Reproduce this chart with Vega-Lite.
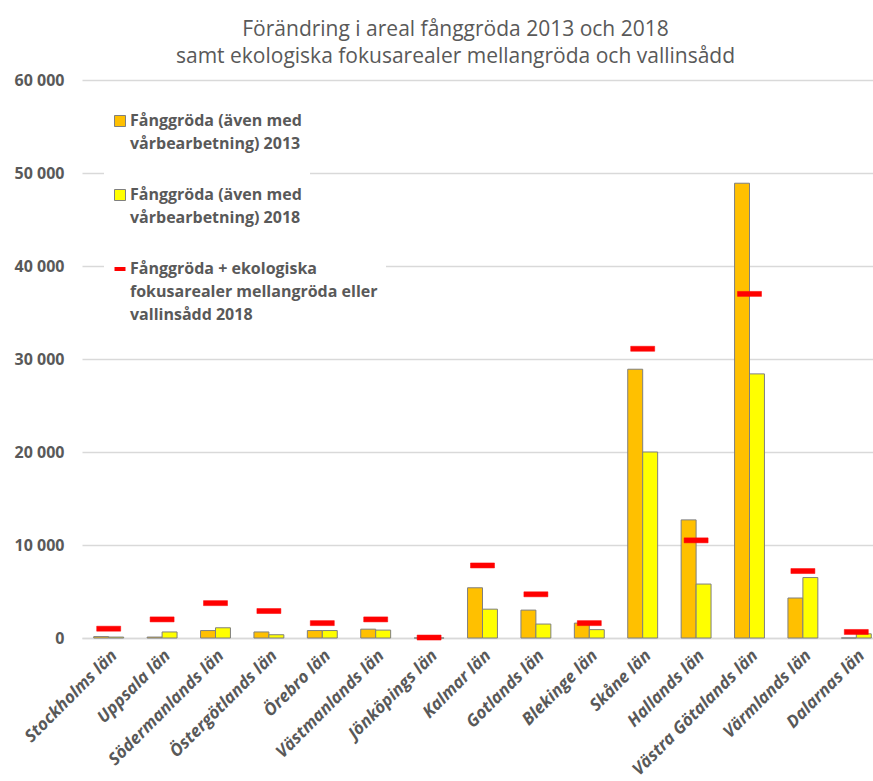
{
  "$schema": "https://vega.github.io/schema/vega-lite/v6.json",
  "width": 791,
  "height": 558,
  "autosize": {"type": "none"},
  "padding": {"left": 82, "top": 80, "right": 0, "bottom": 143},
  "background": "white",
  "title": {
    "text": ["Förändring i areal fånggröda 2013 och 2018", "samt ekologiska fokusarealer mellangröda och vallinsådd"],
    "font": "Open Sans",
    "fontSize": 21,
    "fontWeight": "normal",
    "color": "#595959",
    "lineHeight": 27,
    "anchor": "middle",
    "dx": -22,
    "offset": 5
  },
  "data": {
    "values": [
      {"lan": "Stockholms län", "serie": "Fånggröda (även med vårbearbetning) 2013", "value": 150},
      {"lan": "Stockholms län", "serie": "Fånggröda (även med vårbearbetning) 2018", "value": 100},
      {"lan": "Stockholms län", "serie": "Fånggröda + ekologiska fokusarealer mellangröda eller vallinsådd 2018", "value": 1000},
      {"lan": "Uppsala län", "serie": "Fånggröda (även med vårbearbetning) 2013", "value": 100},
      {"lan": "Uppsala län", "serie": "Fånggröda (även med vårbearbetning) 2018", "value": 650},
      {"lan": "Uppsala län", "serie": "Fånggröda + ekologiska fokusarealer mellangröda eller vallinsådd 2018", "value": 2000},
      {"lan": "Södermanlands län", "serie": "Fånggröda (även med vårbearbetning) 2013", "value": 800},
      {"lan": "Södermanlands län", "serie": "Fånggröda (även med vårbearbetning) 2018", "value": 1100},
      {"lan": "Södermanlands län", "serie": "Fånggröda + ekologiska fokusarealer mellangröda eller vallinsådd 2018", "value": 3750},
      {"lan": "Östergötlands län", "serie": "Fånggröda (även med vårbearbetning) 2013", "value": 650},
      {"lan": "Östergötlands län", "serie": "Fånggröda (även med vårbearbetning) 2018", "value": 350},
      {"lan": "Östergötlands län", "serie": "Fånggröda + ekologiska fokusarealer mellangröda eller vallinsådd 2018", "value": 2900},
      {"lan": "Örebro län", "serie": "Fånggröda (även med vårbearbetning) 2013", "value": 800},
      {"lan": "Örebro län", "serie": "Fånggröda (även med vårbearbetning) 2018", "value": 800},
      {"lan": "Örebro län", "serie": "Fånggröda + ekologiska fokusarealer mellangröda eller vallinsådd 2018", "value": 1600},
      {"lan": "Västmanlands län", "serie": "Fånggröda (även med vårbearbetning) 2013", "value": 950},
      {"lan": "Västmanlands län", "serie": "Fånggröda (även med vårbearbetning) 2018", "value": 850},
      {"lan": "Västmanlands län", "serie": "Fånggröda + ekologiska fokusarealer mellangröda eller vallinsådd 2018", "value": 2000},
      {"lan": "Jönköpings län", "serie": "Fånggröda (även med vårbearbetning) 2013", "value": 0},
      {"lan": "Jönköpings län", "serie": "Fånggröda (även med vårbearbetning) 2018", "value": 0},
      {"lan": "Jönköpings län", "serie": "Fånggröda + ekologiska fokusarealer mellangröda eller vallinsådd 2018", "value": 50},
      {"lan": "Kalmar län", "serie": "Fånggröda (även med vårbearbetning) 2013", "value": 5400},
      {"lan": "Kalmar län", "serie": "Fånggröda (även med vårbearbetning) 2018", "value": 3100},
      {"lan": "Kalmar län", "serie": "Fånggröda + ekologiska fokusarealer mellangröda eller vallinsådd 2018", "value": 7800},
      {"lan": "Gotlands län", "serie": "Fånggröda (även med vårbearbetning) 2013", "value": 3000},
      {"lan": "Gotlands län", "serie": "Fånggröda (även med vårbearbetning) 2018", "value": 1500},
      {"lan": "Gotlands län", "serie": "Fånggröda + ekologiska fokusarealer mellangröda eller vallinsådd 2018", "value": 4700},
      {"lan": "Blekinge län", "serie": "Fånggröda (även med vårbearbetning) 2013", "value": 1600},
      {"lan": "Blekinge län", "serie": "Fånggröda (även med vårbearbetning) 2018", "value": 900},
      {"lan": "Blekinge län", "serie": "Fånggröda + ekologiska fokusarealer mellangröda eller vallinsådd 2018", "value": 1600},
      {"lan": "Skåne län", "serie": "Fånggröda (även med vårbearbetning) 2013", "value": 28900},
      {"lan": "Skåne län", "serie": "Fånggröda (även med vårbearbetning) 2018", "value": 20000},
      {"lan": "Skåne län", "serie": "Fånggröda + ekologiska fokusarealer mellangröda eller vallinsådd 2018", "value": 31100},
      {"lan": "Hallands län", "serie": "Fånggröda (även med vårbearbetning) 2013", "value": 12700},
      {"lan": "Hallands län", "serie": "Fånggröda (även med vårbearbetning) 2018", "value": 5800},
      {"lan": "Hallands län", "serie": "Fånggröda + ekologiska fokusarealer mellangröda eller vallinsådd 2018", "value": 10500},
      {"lan": "Västra Götalands län", "serie": "Fånggröda (även med vårbearbetning) 2013", "value": 48900},
      {"lan": "Västra Götalands län", "serie": "Fånggröda (även med vårbearbetning) 2018", "value": 28400},
      {"lan": "Västra Götalands län", "serie": "Fånggröda + ekologiska fokusarealer mellangröda eller vallinsådd 2018", "value": 37000},
      {"lan": "Värmlands län", "serie": "Fånggröda (även med vårbearbetning) 2013", "value": 4300},
      {"lan": "Värmlands län", "serie": "Fånggröda (även med vårbearbetning) 2018", "value": 6500},
      {"lan": "Värmlands län", "serie": "Fånggröda + ekologiska fokusarealer mellangröda eller vallinsådd 2018", "value": 7200},
      {"lan": "Dalarnas län", "serie": "Fånggröda (även med vårbearbetning) 2013", "value": 0},
      {"lan": "Dalarnas län", "serie": "Fånggröda (även med vårbearbetning) 2018", "value": 450},
      {"lan": "Dalarnas län", "serie": "Fånggröda + ekologiska fokusarealer mellangröda eller vallinsådd 2018", "value": 650}
    ]
  },
  "encoding": {
    "x": {
      "field": "lan",
      "type": "nominal",
      "sort": null,
      "scale": {"range": [0, 801], "paddingInner": 0.44, "paddingOuter": 0.22},
      "axis": {
        "title": null,
        "labelAngle": -45,
        "labelFont": "Open Sans",
        "labelFontSize": 17,
        "labelFontWeight": "bold",
        "labelFontStyle": "italic",
        "labelColor": "#595959",
        "ticks": false,
        "domainColor": "#d9d9d9",
        "domainWidth": 1.5,
        "grid": false,
        "labelPadding": 9
      }
    },
    "y": {
      "field": "value",
      "type": "quantitative",
      "scale": {"domain": [0, 60000], "nice": false},
      "axis": {
        "title": null,
        "values": [0, 10000, 20000, 30000, 40000, 50000, 60000],
        "labelExpr": "replace(format(datum.value, ','), ',', ' ')",
        "labelFont": "Open Sans",
        "labelFontSize": 16,
        "labelFontWeight": "bold",
        "labelColor": "#595959",
        "domain": false,
        "ticks": false,
        "gridColor": "#d9d9d9",
        "gridWidth": 1.5,
        "labelPadding": 18
      }
    }
  },
  "layer": [
    {
      "transform": [{"filter": "indexof(datum.serie, '+') < 0"}],
      "mark": {"type": "bar", "stroke": "#7f7f7f", "strokeWidth": 1},
      "encoding": {
        "xOffset": {"field": "serie", "type": "nominal", "sort": ["Fånggröda (även med vårbearbetning) 2013", "Fånggröda (även med vårbearbetning) 2018"]},
        "color": {
          "field": "serie",
          "type": "nominal",
          "scale": {
            "domain": ["Fånggröda (även med vårbearbetning) 2013", "Fånggröda (även med vårbearbetning) 2018"],
            "range": ["#FFC000", "#FFFF00"]
          },
          "legend": {
            "title": null,
            "orient": "none",
            "legendX": 22,
            "legendY": 25,
            "padding": 8,
            "fillColor": "white",
            "labelFont": "Open Sans",
            "labelFontSize": 16,
            "labelFontWeight": "bold",
            "labelColor": "#595959",
            "labelLimit": 320,
            "labelOffset": 2,
            "rowPadding": 35,
            "symbolSize": 121,
            "symbolType": "square",
            "symbolStrokeColor": "#7f7f7f",
            "symbolStrokeWidth": 1,
            "labelExpr": "datum.label === 'Fånggröda (även med vårbearbetning) 2013' ? ['Fånggröda (även med', 'vårbearbetning) 2013'] : ['Fånggröda (även med', 'vårbearbetning) 2018']"
          }
        }
      }
    },
    {
      "transform": [{"filter": "indexof(datum.serie, '+') >= 0"}],
      "mark": {"type": "tick", "size": 24, "thickness": 5, "opacity": 1, "fill": "#FF0000", "strokeWidth": 0.5},
      "encoding": {
        "stroke": {
          "field": "serie",
          "type": "nominal",
          "scale": {
            "domain": ["Fånggröda + ekologiska fokusarealer mellangröda eller vallinsådd 2018"],
            "range": ["#FF0000"]
          },
          "legend": {
            "title": null,
            "orient": "none",
            "legendX": 22,
            "legendY": 173,
            "padding": 8,
            "fillColor": "white",
            "labelFont": "Open Sans",
            "labelFontSize": 16,
            "labelFontWeight": "bold",
            "labelColor": "#595959",
            "labelLimit": 320,
            "labelOffset": 2,
            "symbolSize": 121,
            "symbolType": "stroke",
            "symbolStrokeWidth": 4,
            "labelExpr": "['Fånggröda + ekologiska', 'fokusarealer mellangröda eller', 'vallinsådd 2018']"
          }
        }
      }
    }
  ],
  "config": {
    "view": {"stroke": null},
    "style": {"guide-label": {"lineHeight": 23}}
  }
}
